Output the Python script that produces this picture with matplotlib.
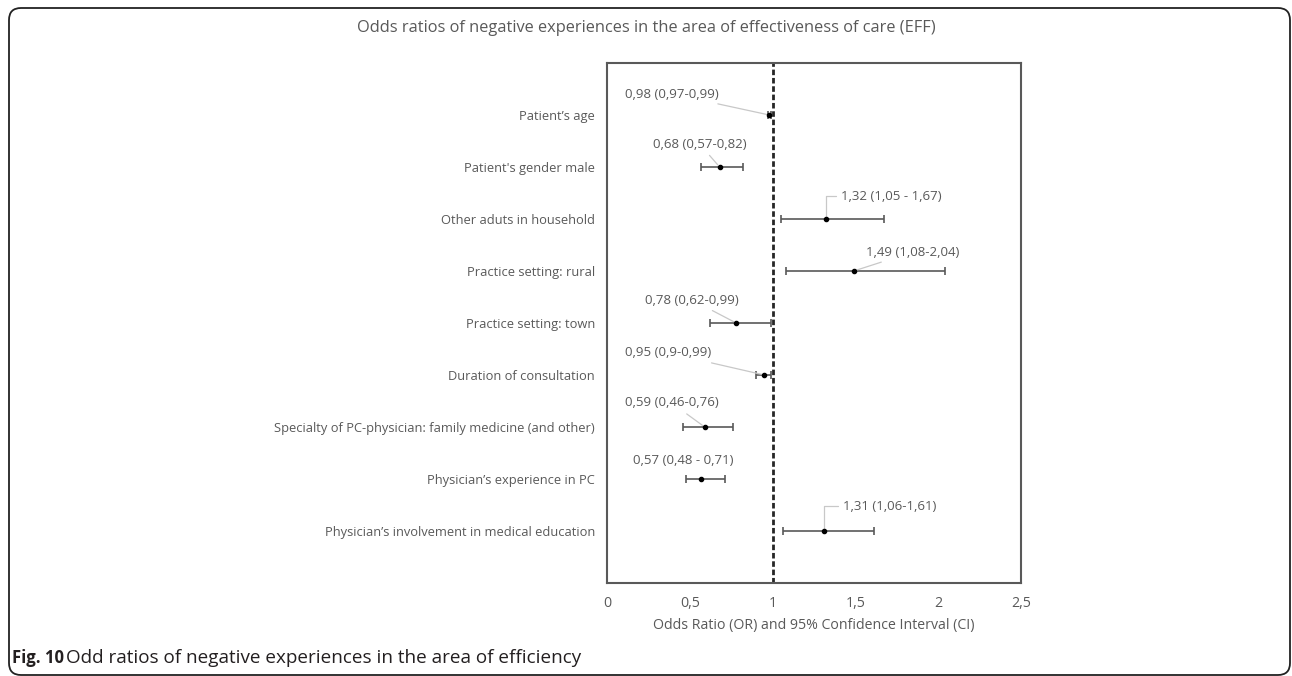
import matplotlib
matplotlib.use("Agg")
import matplotlib.pyplot as plt
from matplotlib.patches import FancyBboxPatch
from matplotlib.transforms import IdentityTransform

categories = [
    "Patient\u2019s age",
    "Patient's gender male",
    "Other aduts in household",
    "Practice setting: rural",
    "Practice setting: town",
    "Duration of consultation",
    "Specialty of PC-physician: family medicine (and other)",
    "Physician\u2019s experience in PC",
    "Physician\u2019s involvement in medical education",
]
or_vals = [0.98, 0.68, 1.32, 1.49, 0.78, 0.95, 0.59, 0.57, 1.31]
ci_low = [0.97, 0.57, 1.05, 1.08, 0.62, 0.90, 0.46, 0.48, 1.06]
ci_high = [0.99, 0.82, 1.67, 2.04, 0.99, 0.99, 0.76, 0.71, 1.61]
value_labels = [
    "0,98 (0,97-0,99)",
    "0,68 (0,57-0,82)",
    "1,32 (1,05 - 1,67)",
    "1,49 (1,08-2,04)",
    "0,78 (0,62-0,99)",
    "0,95 (0,9-0,99)",
    "0,59 (0,46-0,76)",
    "0,57 (0,48 - 0,71)",
    "1,31 (1,06-1,61)",
]
x_ticks = [0, 0.5, 1, 1.5, 2, 2.5]
x_tick_labels = ["0", "0,5", "1", "1,5", "2", "2,5"]

# label offsets in pixels (dx, dy up) relative to the point -- layout only
label_offsets = [(-97, 21), (-20, 23), (66, 23), (59, 19), (-44, 23),
                 (-96, 22), (-33, 24), (-18, 18), (66, 25)]
draw_leader = [True, True, True, True, True, True, True, False, True]
leader_style = ["arc3", "arc3", "angle,angleA=0,angleB=90,rad=0", "arc3", "arc3",
                "arc3", "arc3", "arc3", "angle,angleA=0,angleB=90,rad=0"]

FONT = "Open Sans"
GRAY = "#595959"
W, H = 1292, 676
fig = plt.figure(figsize=(W / 100, H / 100), dpi=100)
ax = fig.add_axes([607 / W, 1 - 583 / H, 414 / W, 520 / H])

ypos = list(range(1, len(categories) + 1))
xerr = [[o - l for o, l in zip(or_vals, ci_low)], [h - o for o, h in zip(or_vals, ci_high)]]
ax.errorbar(or_vals, ypos, xerr=xerr, fmt="o", color="black", ms=3,
            ecolor=GRAY, elinewidth=1.2, capsize=3.2, capthick=1.2, zorder=3)
ax.axvline(1, color="#262626", lw=2, ls=(0, (2, 1)), zorder=2)

ax.set_xlim(0, 2.5)
ax.set_ylim(10, 0)
ax.set_xticks(x_ticks)
ax.set_xticklabels(x_tick_labels)
ax.set_yticks(ypos)
ax.set_yticklabels(categories)
ax.tick_params(length=0, colors=GRAY)
ax.tick_params(axis="x", pad=9.5, labelsize=10.2)
ax.tick_params(axis="y", pad=8.6, labelsize=9.3)
for lab in ax.get_xticklabels() + ax.get_yticklabels():
    lab.set_fontfamily(FONT)
for s in ax.spines.values():
    s.set_color(GRAY)
    s.set_linewidth(1.5)
ax.set_xlabel("Odds Ratio (OR) and 95% Confidence Interval (CI)", color=GRAY,
              fontsize=10.2, family=FONT, labelpad=5)

for x, y, txt, (dx, dy), lead, cs in zip(or_vals, ypos, value_labels, label_offsets,
                                         draw_leader, leader_style):
    ax.annotate(txt, xy=(x, y), xytext=(dx * 0.72, dy * 0.72), textcoords="offset points",
                ha="center", va="center", fontsize=9.5, color=GRAY, family=FONT,
                arrowprops=dict(arrowstyle="-", color="#c8c8c8", lw=0.9,
                                shrinkA=2, shrinkB=2, connectionstyle=cs) if lead else None)

fig.text(646 / W, 1 - 28 / H,
         "Odds ratios of negative experiences in the area of effectiveness of care (EFF)",
         ha="center", va="center", fontsize=11.8, color=GRAY, family=FONT)

fig.text(12 / W, 1 - 658 / H, "Fig. 10", ha="left", va="center", fontsize=12,
         fontweight="bold", family=FONT, color="#231f20")
fig.text(66 / W, 1 - 658 / H, "Odd ratios of negative experiences in the area of efficiency",
         ha="left", va="center", fontsize=13.6, family=FONT, color="#231f20")

frame = FancyBboxPatch((9, 1), 1281, 667, boxstyle="round,pad=0,rounding_size=12",
                       transform=IdentityTransform(), fill=False, ec="#222222", lw=1.3)
fig.patches.append(frame)

fig.savefig("out.png", dpi=100)
